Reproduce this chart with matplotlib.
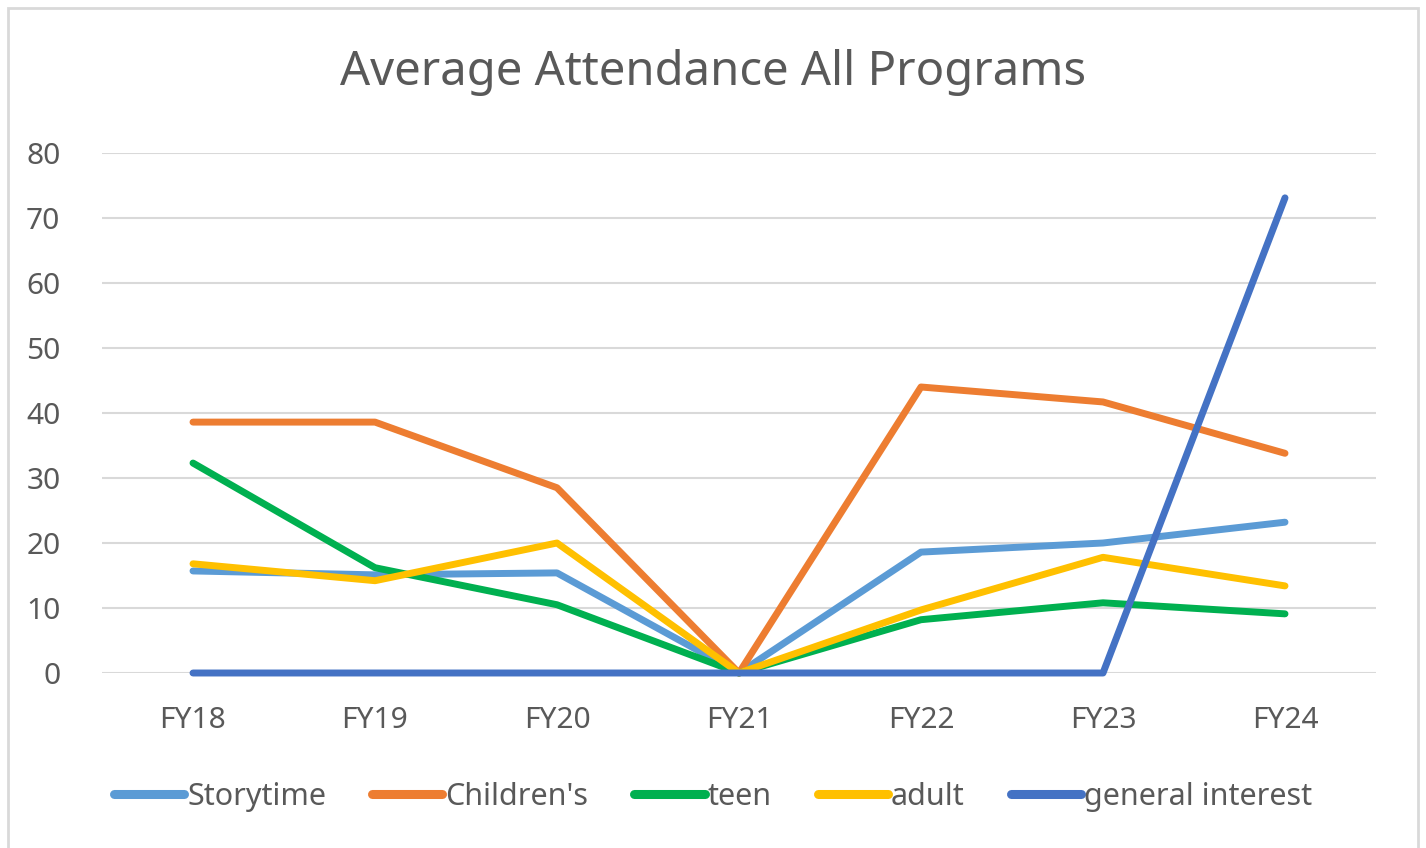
import matplotlib.pyplot as plt
from matplotlib.patches import Rectangle

# data
years = ['FY18', 'FY19', 'FY20', 'FY21', 'FY22', 'FY23', 'FY24']
storytime = [15.7, 15.1, 15.4, 0, 18.6, 20.0, 23.2]
childrens = [38.6, 38.6, 28.5, 0, 44.0, 41.7, 33.8]
teen = [32.3, 16.2, 10.5, 0, 8.2, 10.8, 9.1]
adult = [16.8, 14.2, 20.0, 0, 9.7, 17.8, 13.4]
general = [0, 0, 0, 0, 0, 0, 73.1]

series = [
    ('Storytime', storytime, '#5B9BD5'),
    ("Children's", childrens, '#ED7D31'),
    ('teen', teen, '#00B050'),
    ('adult', adult, '#FFC000'),
    ('general interest', general, '#4472C4'),
]

plt.rcParams['font.family'] = ['Noto Sans', 'DejaVu Sans']
txt = '#595959'

fig = plt.figure(figsize=(14.26, 8.48), dpi=100)
ax = fig.add_axes([102 / 1426, 1 - 673 / 848, 1274 / 1426, 520 / 848])

x = range(len(years))
for name, vals, col in series:
    ax.plot(x, vals, color=col, lw=5, label=name, solid_capstyle='round',
            solid_joinstyle='round', clip_on=False)

ax.set_xlim(-0.5, 6.5)
ax.set_ylim(0, 80)
ax.set_xticks(list(x))
ax.set_xticklabels(years)
ax.set_yticks(range(0, 81, 10))
ax.grid(axis='y', color='#D9D9D9', lw=1.5)
ax.set_axisbelow(True)
for s in ax.spines.values():
    s.set_visible(False)
ax.tick_params(length=0, labelsize=21.5, colors=txt)
ax.tick_params(axis='x', pad=24)
ax.tick_params(axis='y', pad=30)

fig.text(0.5, 1 - 73 / 848, 'Average Attendance All Programs', ha='center',
         va='center', fontsize=34, color=txt)

leg = fig.legend(loc='center', bbox_to_anchor=(0.5, 1 - 797 / 848), ncol=5,
                 frameon=False, fontsize=22, handlelength=2.3,
                 handletextpad=0.1, columnspacing=1.5, labelcolor=txt)
for h in leg.get_lines():
    h.set_linewidth(6.5)

# chart border
fig.patches.append(Rectangle((8 / 1426, -0.01), 1410 / 1426, 1 - 8 / 848 + 0.01,
                             transform=fig.transFigure, fill=False,
                             edgecolor='#D9D9D9', lw=2))

fig.savefig('out.png', dpi=100)
